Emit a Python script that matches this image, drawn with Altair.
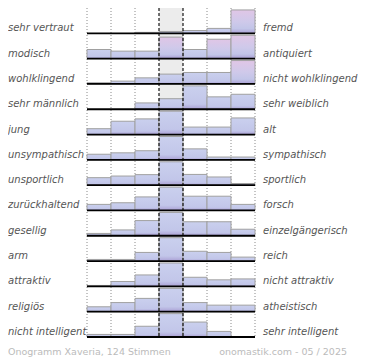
import altair as alt
import pandas as pd

left_labels = ["sehr vertraut", "modisch", "wohlklingend", "sehr männlich", "\u00a0jung",
               "unsympathisch", "unsportlich", "zurückhaltend", "gesellig", "arm",
               "attraktiv", "religiös", "nicht intelligent"]
right_labels = ["fremd", "antiquiert", "nicht wohlklingend", "sehr weiblich", "alt",
                "sympathisch", "sportlich", "forsch", "einzelgängerisch", "reich",
                "nicht attraktiv", "atheistisch", "sehr intelligent"]
# bar heights per row, in percent of the row's highest bar (7 steps)
row_values = [
    [0, 0, 4, 8, 12, 21, 100],
    [39, 32, 32, 92, 39, 83, 100],
    [5, 12, 26, 42, 49, 49, 100],
    [0, 0, 27, 45, 100, 53, 64],
    [25, 57, 67, 100, 32, 32, 71],
    [24, 30, 39, 100, 47, 12, 12],
    [32, 39, 45, 100, 46, 35, 7],
    [26, 33, 58, 100, 61, 61, 26],
    [10, 25, 65, 100, 60, 60, 28],
    [7, 7, 37, 100, 42, 37, 17],
    [4, 21, 49, 100, 39, 28, 32],
    [21, 39, 57, 100, 39, 28, 28],
    [11, 11, 46, 100, 64, 24, 0],
]
boundaries = [0, 1, 2, 3, 4, 5, 6, 7]
footer_left = "Onogramm Xaveria, 124 Stimmen"
footer_right = "onomastik.com - 05 / 2025"

NROW = len(row_values)
PITCH = 100 * 26 / 24  # row pitch in value units (bar max = 100)
W, H = 168, 329

bars = pd.DataFrame([
    {"r": r, "c": c, "v": v}
    for r, vals in enumerate(row_values) for c, v in enumerate(vals, start=1)
])
labels = pd.DataFrame({"r": list(range(NROW)), "left": left_labels, "right": right_labels})
bnd = pd.DataFrame({"b": boundaries})

xs = alt.Scale(domain=[0, 7], nice=False, zero=False)
ys = alt.Scale(domain=[0, NROW * PITCH], nice=False, zero=True)

base_expr = f"({NROW - 1} - datum.r) * {PITCH}"

blue = alt.Gradient(gradient="linear", x1=0, x2=0, y1=0, y2=1, stops=[
    alt.GradientStop(color="#cad0ee", offset=0),
    alt.GradientStop(color="#c2c6e9", offset=0.78),
    alt.GradientStop(color="#aa9fd4", offset=1)])
pink = alt.Gradient(gradient="linear", x1=0, x2=0, y1=0, y2=1, stops=[
    alt.GradientStop(color="#e0c6e6", offset=0),
    alt.GradientStop(color="#cfc9ea", offset=0.5),
    alt.GradientStop(color="#c2c5e8", offset=0.8),
    alt.GradientStop(color="#aa9fd4", offset=1)])

center_bg = alt.Chart(bnd).transform_filter("datum.b == 3").mark_rect(color="#ececec").encode(
    x=alt.X("b:Q", scale=xs, axis=None), x2=alt.X2(datum=4),
    y=alt.value(0), y2=alt.value(H))

dotted = alt.Chart(bnd).transform_filter("datum.b != 3 && datum.b != 4").mark_rule(
    color="#8a8a8a", strokeDash=[1, 2], strokeWidth=1).encode(
    x=alt.X("b:Q", scale=xs, axis=None), y=alt.value(0), y2=alt.value(H))

bar_base = alt.Chart(bars).transform_calculate(
    base=base_expr).transform_calculate(
    top="datum.base + datum.v", x0="datum.c - 1", x1="datum.c").transform_filter("datum.v > 0")
enc = dict(x=alt.X("x0:Q", scale=xs, axis=None), x2="x1:Q",
           y=alt.Y("top:Q", scale=ys, axis=None), y2="base:Q")
bars_blue = bar_base.transform_filter("!(datum.r <= 2 && datum.v >= 80)").mark_rect(
    color=blue, stroke="#a0a0a0", strokeWidth=1).encode(**enc)
bars_pink = bar_base.transform_filter("datum.r <= 2 && datum.v >= 80").mark_rect(
    color=pink, stroke="#a0a0a0", strokeWidth=1).encode(**enc)

dashed = alt.Chart(bnd).transform_filter("datum.b == 3 || datum.b == 4").mark_rule(
    color="#000000", strokeDash=[3, 2], strokeWidth=1.1).encode(
    x=alt.X("b:Q", scale=xs, axis=None), y=alt.value(0), y2=alt.value(H))

lab_base = alt.Chart(labels).transform_calculate(base=base_expr)
baselines = lab_base.mark_rule(color="#000000", strokeWidth=1.8).encode(
    y=alt.Y("base:Q", scale=ys, axis=None), x=alt.X(datum=0, scale=xs), x2=alt.X2(datum=7))

txt = dict(font="DejaVu Sans", fontStyle="italic", fontSize=10, color="#555555",
           baseline="alphabetic", dy=-2, align="left")
left_txt = lab_base.mark_text(**txt).encode(
    x=alt.value(-79), y=alt.Y("base:Q", scale=ys, axis=None), text="left:N")
right_txt = lab_base.mark_text(**txt).encode(
    x=alt.value(176), y=alt.Y("base:Q", scale=ys, axis=None), text="right:N")

foot = dict(font="DejaVu Sans", fontSize=9.5, color="#bbbbbb", baseline="alphabetic")
foot_l = alt.Chart(pd.DataFrame({"t": [footer_left]})).mark_text(align="left", **foot).encode(
    x=alt.value(-79), y=alt.value(H + 18), text="t:N")
foot_r = alt.Chart(pd.DataFrame({"t": [footer_right]})).mark_text(align="right", **foot).encode(
    x=alt.value(260), y=alt.value(H + 18), text="t:N")

chart = alt.layer(center_bg, dotted, bars_blue, bars_pink, dashed, baselines,
                  left_txt, right_txt, foot_l, foot_r).properties(
    width=W, height=H,
    autosize=alt.AutoSizeParams(type="none"),
    padding={"left": 79, "top": 0, "right": 104, "bottom": 20},
    background="white",
).configure_view(stroke=None)

chart.save("out.html", embed_options={"renderer": "svg", "actions": False})
